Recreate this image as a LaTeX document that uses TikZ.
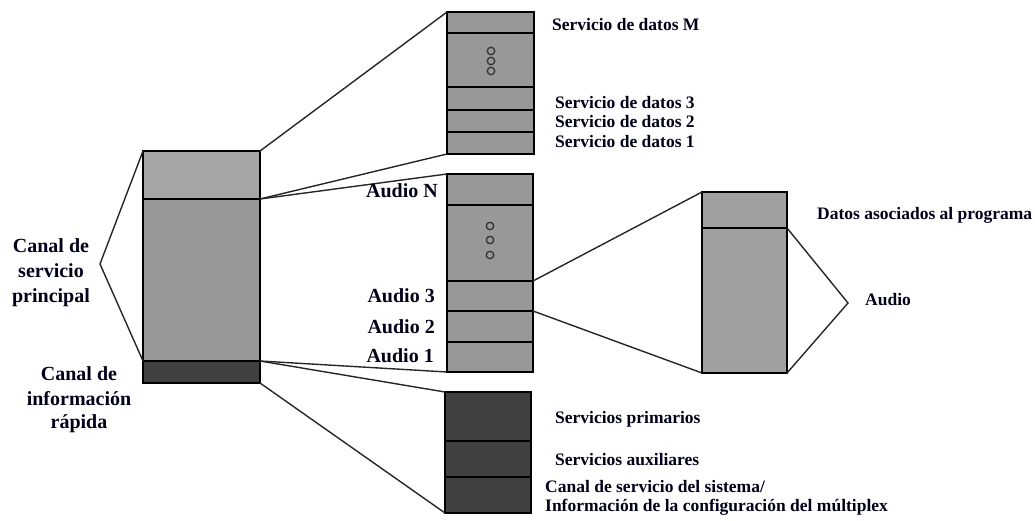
\documentclass[tikz,border=0pt]{standalone}
\usepackage{fontspec}
\setmainfont{Liberation Serif}
\definecolor{lightg}{HTML}{A6A6A6}
\definecolor{midg}{HTML}{989898}
\definecolor{rightg}{HTML}{A0A0A0}
\definecolor{darkg}{HTML}{404040}
\tikzset{
  cell/.style={draw=black, line width=1.4pt, inner sep=0pt, outer sep=0pt, anchor=north west},
  conn/.style={draw=black!85, line width=1.4pt, line join=miter},
  lab/.style={inner sep=0pt, font=\bfseries\fontsize{17.5}{20}\selectfont, text=black!90!blue},
  biglab/.style={inner sep=0pt, font=\bfseries\fontsize{20}{25}\selectfont, text=black!90!blue},
  dot/.style={draw=black!80, line width=1.3pt, circle, inner sep=0pt, minimum size=7.5pt}
}
\begin{document}
\begin{tikzpicture}[x=1pt,y=-1pt]
\useasboundingbox (0,0) rectangle (1035,521);
% main block
\node[cell, fill=lightg, minimum width=117pt, minimum height=48pt] (m1) at (143,151) {};
\node[cell, fill=midg, minimum width=117pt, minimum height=162pt] (m2) at (143,199) {};
\node[cell, fill=darkg, minimum width=117pt, minimum height=22pt] (m3) at (143,361) {};
% data stack
\node[cell, fill=midg, minimum width=87pt, minimum height=21pt] (d1) at (447,12) {};
\node[cell, fill=midg, minimum width=87pt, minimum height=54pt] (d2) at (447,33) {};
\node[cell, fill=midg, minimum width=87pt, minimum height=23pt] (d3) at (447,87) {};
\node[cell, fill=midg, minimum width=87pt, minimum height=22pt] (d4) at (447,110) {};
\node[cell, fill=midg, minimum width=87pt, minimum height=22pt] (d5) at (447,132) {};
% audio stack
\node[cell, fill=midg, minimum width=86pt, minimum height=31pt] (a1) at (447,174) {};
\node[cell, fill=midg, minimum width=86pt, minimum height=76pt] (a2) at (447,205) {};
\node[cell, fill=midg, minimum width=86pt, minimum height=30pt] (a3) at (447,281) {};
\node[cell, fill=midg, minimum width=86pt, minimum height=31pt] (a4) at (447,311) {};
\node[cell, fill=midg, minimum width=86pt, minimum height=30pt] (a5) at (447,342) {};
% dark stack
\node[cell, fill=darkg, minimum width=86pt, minimum height=49pt] (s1) at (445,392) {};
\node[cell, fill=darkg, minimum width=86pt, minimum height=36pt] (s2) at (445,441) {};
\node[cell, fill=darkg, minimum width=86pt, minimum height=36pt] (s3) at (445,477) {};
% right block
\node[cell, fill=rightg, minimum width=85pt, minimum height=36pt] (r1) at (702,192) {};
\node[cell, fill=rightg, minimum width=85pt, minimum height=145pt] (r2) at (702,228) {};
% dots
\node[dot] (dd1) at (491,51) {};
\node[dot] (dd2) at (491,61) {};
\node[dot] (dd3) at (491,71) {};
\node[dot] (ad1) at (490,226) {};
\node[dot] (ad2) at (490,240) {};
\node[dot] (ad3) at (490,255) {};
% connectors
\coordinate (apexL) at (100,264);
\coordinate (apexR) at (848,303);
\draw[conn] (m1.north west) -- (apexL) -- (m2.south west);
\draw[conn] (m1.north east) -- (d1.north west);
\draw[conn] (m2.north east) -- (d5.south west);
\draw[conn] (m2.north east) -- (a1.north west);
\draw[conn] (m3.north east) -- (a5.south west);
\draw[conn] (m3.north east) -- (s1.north west);
\draw[conn] (m3.south east) -- (s3.south west);
\draw[conn] (a3.north east) -- (r1.north west);
\draw[conn] (a3.south east) -- (r2.south west);
\draw[conn] (r2.north east) -- (apexR) -- (r2.south east);
% labels
\node[lab, anchor=base west] (tM) at (552,31) {Servicio de datos M};
\node[lab, anchor=base west] (t3) at (555,109) {Servicio de datos 3};
\node[lab, anchor=base west] (t2) at (555,128) {Servicio de datos 2};
\node[lab, anchor=base west] (t1) at (555,148) {Servicio de datos 1};
\node[biglab, anchor=base east] (aN) at (438,198) {Audio N};
\node[biglab, anchor=base east] (a3l) at (435,302) {Audio 3};
\node[biglab, anchor=base east] (a2l) at (435,333) {Audio 2};
\node[biglab, anchor=base east] (a1l) at (434,362) {Audio 1};
\node[lab, anchor=base west] (dap) at (817,220) {Datos asociados al programa};
\node[lab, anchor=base west] (aud) at (865,305) {Audio};
\node[lab, anchor=base west] (sp) at (555,423) {Servicios primarios};
\node[lab, anchor=base west] (sa) at (555,465) {Servicios auxiliares};
\node[lab, anchor=base west] (cs1) at (545,492) {Canal de servicio del sistema/};
\node[lab, anchor=base west] (cs2) at (545,511) {Información de la configuración del múltiplex};
\node[biglab, anchor=base] (l1) at (51,252) {Canal de};
\node[biglab, anchor=base] (l2) at (51,277) {servicio};
\node[biglab, anchor=base] (l3) at (51,302) {principal};
\node[biglab, anchor=base] (r1l) at (79,380) {Canal de};
\node[biglab, anchor=base] (r2l) at (79,405) {información};
\node[biglab, anchor=base] (r3l) at (79,428) {rápida};
\end{tikzpicture}
\end{document}
